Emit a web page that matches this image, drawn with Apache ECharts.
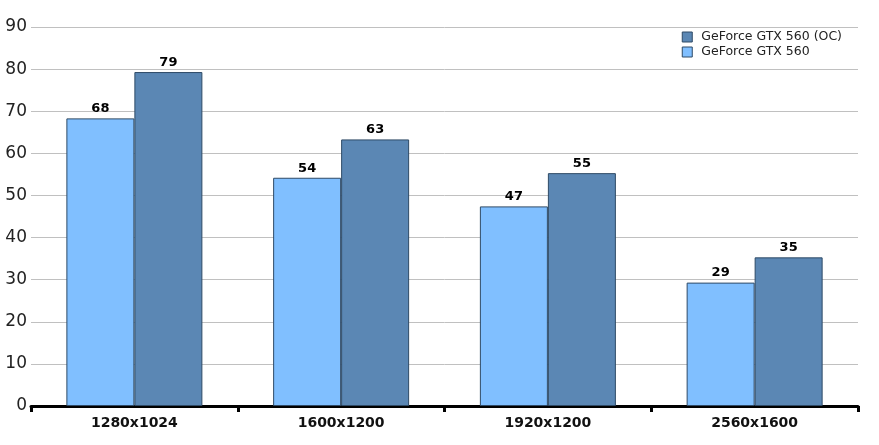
<!DOCTYPE html>
<html>
<head>
<meta charset="utf-8">
<script src="https://cdn.jsdelivr.net/npm/echarts@6/dist/echarts.min.js"></script>
<style>html,body{margin:0;padding:0;background:#fff}#c{width:879px;height:445px}</style>
</head>
<body>
<div id="c"></div>
<script>
const categories = ['1280x1024', '1600x1200', '1920x1200', '2560x1600'];
const gtx560 = [68.3, 54.2, 47.4, 29.3];
const gtx560oc = [79.3, 63.3, 55.3, 35.3];
const seriesNames = ['GeForce GTX 560', 'GeForce GTX 560 (OC)'];
const yTicks = { min: 0, max: 90, interval: 10 };

const font = 'DejaVu Sans, Verdana, sans-serif';
const chart = echarts.init(document.getElementById('c'));
chart.setOption({
  animation: false,
  backgroundColor: '#fff',
  grid: { left: 31, right: 21, top: 27, bottom: 39, containLabel: false },
  legend: {
    data: [seriesNames[1], seriesNames[0]],
    orient: 'vertical',
    right: 37, top: 30, padding: 0,
    itemWidth: 10, itemHeight: 10, itemGap: 1,
    icon: 'rect',
    itemStyle: { borderColor: '#2e4a66', borderWidth: 1 },
    textStyle: { fontFamily: font, fontSize: 12.5, color: '#222', padding: [0, 0, 0, 4], lineHeight: 14 }
  },
  xAxis: {
    type: 'category',
    data: categories,
    axisLine: { lineStyle: { color: '#000', width: 3 } },
    axisTick: { show: true, length: 6, lineStyle: { color: '#000', width: 3 } },
    axisLabel: { fontFamily: font, fontSize: 14, fontWeight: 'bold', color: '#111', margin: 10 }
  },
  yAxis: {
    type: 'value',
    min: yTicks.min, max: yTicks.max, interval: yTicks.interval,
    axisLine: { show: false },
    axisTick: { show: false },
    splitLine: { lineStyle: { color: '#c0c0c0', width: 1 } },
    axisLabel: { fontFamily: font, fontSize: 17, color: '#222', margin: 4 }
  },
  series: [
    {
      name: seriesNames[0], type: 'bar', data: gtx560,
      barWidth: 68, barGap: '0%',
      itemStyle: { color: '#80bfff', borderColor: '#2e4a66', borderWidth: 1 },
      label: { show: true, position: 'top', distance: 3, fontFamily: font, fontSize: 13, fontWeight: 'bold', color: '#000',
        formatter: p => Math.round(p.value) }
    },
    {
      name: seriesNames[1], type: 'bar', data: gtx560oc,
      barWidth: 68, barGap: '0%',
      itemStyle: { color: '#5b87b4', borderColor: '#2e4a66', borderWidth: 1 },
      label: { show: true, position: 'top', distance: 3, fontFamily: font, fontSize: 13, fontWeight: 'bold', color: '#000',
        formatter: p => Math.round(p.value) }
    }
  ]
});
</script>
</body>
</html>
